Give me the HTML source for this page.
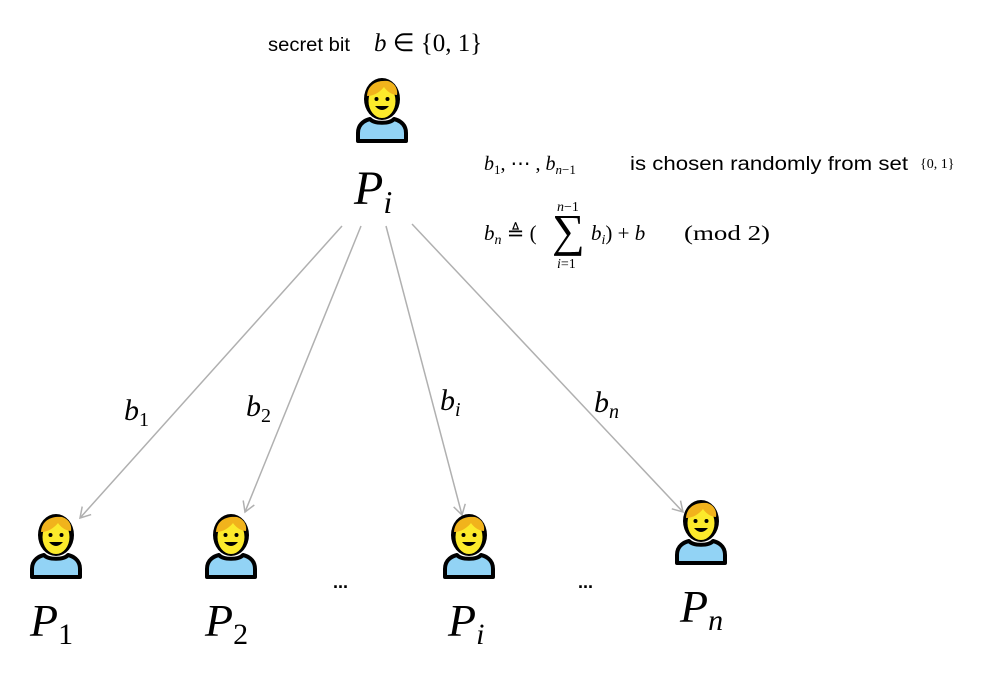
<!DOCTYPE html>
<html><head><style>
body{margin:0;background:#fff;width:1000px;height:673px;overflow:hidden}
svg text{font-family:"Liberation Serif",serif}
.s{font-family:"Liberation Sans",sans-serif;font-style:normal}
</style></head><body>
<svg width="1000" height="673" viewBox="0 0 1000 673" xmlns="http://www.w3.org/2000/svg">
<defs>
<symbol id="p" viewBox="0 0 56 66">
<path d="M4,64 V56 C4,46 12,43 16,42 C20,47 36,47 40,42 C44,43 52,46 52,56 V64 Z" fill="#92d3f5" stroke="#000" stroke-width="4" stroke-linejoin="round"/>
<ellipse cx="28" cy="22" rx="18" ry="21" fill="#000"/>
<ellipse cx="28" cy="24" rx="13.5" ry="17" fill="#fcea2b"/>
<path d="M13,19 C14,6 25,3 34,4 C41,6 44,12 43,18 C37,18 32,13 30,10 C26,15 20,19 13,19 Z" fill="#f1b31c"/>
<circle cx="22.5" cy="22" r="2" fill="#000"/><circle cx="33.5" cy="22" r="2" fill="#000"/>
<path d="M21,29 Q28,37 35,29 Z" fill="#000"/>
</symbol>
<marker id="a" markerWidth="14" markerHeight="14" refX="12" refY="7" orient="auto" markerUnits="userSpaceOnUse">
<path d="M2,1 L12,7 L2,13" fill="none" stroke="#b0b0b0" stroke-width="1.5"/>
</marker>
</defs>
<g stroke="#b0b0b0" stroke-width="1.5" marker-end="url(#a)">
<line x1="342" y1="226" x2="80" y2="518"/>
<line x1="361" y1="226" x2="245" y2="512"/>
<line x1="386" y1="226" x2="462" y2="515"/>
<line x1="412" y1="224" x2="683" y2="512"/>
</g>
<use href="#p" x="354" y="77" width="56" height="66"/>
<use href="#p" x="28" y="513" width="56" height="66"/>
<use href="#p" x="203" y="513" width="56" height="66"/>
<use href="#p" x="441" y="513" width="56" height="66"/>
<use href="#p" x="673" y="499" width="56" height="66"/>
<text x="268" y="51" class="s" font-size="19" textLength="82" lengthAdjust="spacingAndGlyphs">secret bit</text>
<text x="374" y="51" font-size="25"><tspan font-style="italic">b</tspan> ∈ {0, 1}</text>
<text x="354" y="204" font-size="48" font-style="italic">P<tspan font-size="32" dy="9">i</tspan></text>
<text x="484" y="170" font-size="20"><tspan font-style="italic">b</tspan><tspan font-size="13" dy="4">1</tspan><tspan dy="-4">, ⋯ , </tspan><tspan font-style="italic">b</tspan><tspan font-size="13" dy="4" font-style="italic">n</tspan><tspan font-size="13">−1</tspan></text>
<text x="630" y="170" class="s" font-size="19" textLength="278" lengthAdjust="spacingAndGlyphs">is chosen randomly from set</text>
<text x="920" y="168" font-size="14">{0, 1}</text>
<text x="484" y="240" font-size="21"><tspan font-style="italic">b</tspan><tspan font-size="14" dy="4" font-style="italic">n</tspan><tspan dy="-4"> ≜ (</tspan></text>
<text x="552" y="246" font-size="46">∑</text>
<text x="557" y="211" font-size="14"><tspan font-style="italic">n</tspan>−1</text>
<text x="557" y="268" font-size="14"><tspan font-style="italic">i</tspan>=1</text>
<text x="591" y="240" font-size="21"><tspan font-style="italic">b</tspan><tspan font-size="14" dy="4" font-style="italic">i</tspan><tspan dy="-4">) + </tspan><tspan font-style="italic">b</tspan></text>
<text x="684" y="240" font-size="21" textLength="86" lengthAdjust="spacingAndGlyphs">(mod  2)</text>
<text x="124" y="420" font-size="30" font-style="italic">b<tspan font-size="20" dy="6" font-style="normal">1</tspan></text>
<text x="246" y="416" font-size="30" font-style="italic">b<tspan font-size="20" dy="6" font-style="normal">2</tspan></text>
<text x="440" y="410" font-size="30" font-style="italic">b<tspan font-size="20" dy="6">i</tspan></text>
<text x="594" y="412" font-size="30" font-style="italic">b<tspan font-size="20" dy="6">n</tspan></text>
<text x="30" y="636" font-size="46" font-style="italic">P<tspan font-size="30" dy="8" font-style="normal">1</tspan></text>
<text x="205" y="636" font-size="46" font-style="italic">P<tspan font-size="30" dy="8" font-style="normal">2</tspan></text>
<text x="448" y="636" font-size="46" font-style="italic">P<tspan font-size="30" dy="8">i</tspan></text>
<text x="680" y="622" font-size="46" font-style="italic">P<tspan font-size="30" dy="8">n</tspan></text>
<text x="333" y="588" class="s" font-size="18" font-weight="bold">...</text>
<text x="578" y="588" class="s" font-size="18" font-weight="bold">...</text>
</svg>
</body></html>
